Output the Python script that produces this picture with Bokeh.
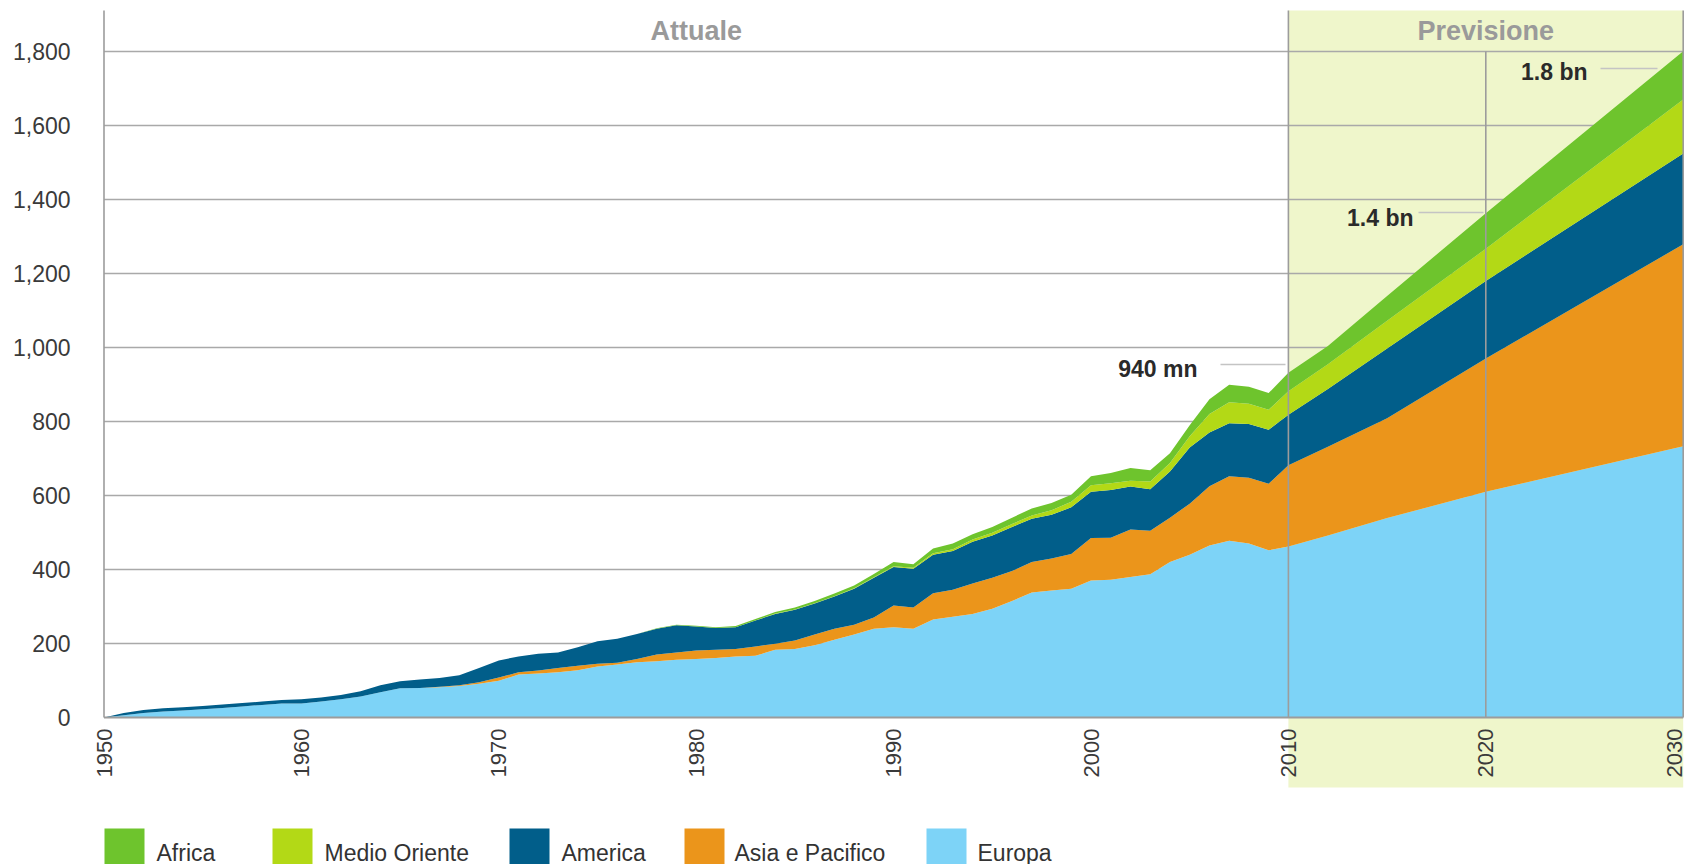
import math
from bokeh.plotting import figure
from bokeh.models import ColumnDataSource, Range1d
from bokeh.embed import file_html
from bokeh.resources import INLINE
from bokeh.core.properties import value

# ---------------- data ----------------
YEARS = list(range(1950, 2011)) + [2012, 2015, 2020, 2030]

europa = [
    0, 6, 12, 16, 19, 22, 26, 30, 34, 38,            # 1950-59
    38, 43, 49, 57, 68, 79, 80, 82, 85, 91,          # 1960-69
    99, 116, 119, 122, 128, 138, 143, 149, 152, 156,  # 1970-79
    158, 161, 165, 167, 183, 185, 195, 210, 224, 240,  # 1980-89
    244, 240, 265, 272, 280, 294, 315, 338, 343, 348,  # 1990-99
    370, 372, 380, 387, 420, 440, 465, 478, 470, 452,  # 2000-09
    462, 492, 539, 610, 733]                          # 2010,12,15,20,30

asia = [
    0, 0, 0, 0, 0, 0, 0, 0, 0, 0,
    0, 0, 0, 0, 0, 0, 0, 1, 2, 4,
    9, 6, 8, 12, 12, 7, 5, 9, 18, 20,
    23, 22, 20, 25, 16, 23, 29, 30, 27, 30,
    59, 57, 71, 73, 82, 84, 81, 82, 87, 94,
    115, 114, 128, 118, 120, 138, 160, 174, 178, 180,
    220, 240, 270, 360, 546]

america = [
    0, 6, 8, 9, 9, 9, 9, 9, 9, 9,
    11, 11, 12, 14, 19, 19, 23, 24, 27, 39,
    46, 43, 45, 42, 50, 61, 65, 68, 70, 73,
    65, 59, 59, 70, 81, 83, 84, 87, 97, 108,
    104, 105, 104, 105, 113, 114, 119, 117, 118, 126,
    125, 129, 116, 112, 125, 152, 145, 143, 145, 146,
    136, 156, 188, 210, 245]

medio_oriente = [
    0, 0, 0, 0, 0, 0, 0, 0, 0, 0,
    0, 0, 0, 0, 0, 0, 0, 0, 0, 0,
    0, 0, 0, 0, 0, 0, 0, 0, 0, 0,
    0, 0, 0, 0, 1, 1, 1, 1, 1, 1,
    2, 3, 4, 5, 6, 7, 8, 9, 12, 15,
    18, 18, 16, 21, 23, 30, 50, 57, 55, 54,
    64, 67, 75, 87, 146]

africa = [
    0, 0, 0, 0, 0, 0, 0, 0, 0, 0,
    0, 0, 0, 0, 0, 0, 0, 0, 0, 0,
    0, 0, 0, 0, 0, 0, 0, 0, 1, 2,
    2, 2, 3, 4, 4, 5, 6, 7, 8, 9,
    11, 9, 13, 15, 14, 16, 17, 19, 20, 19,
    24, 28, 34, 30, 26, 30, 40, 47, 46, 45,
    50, 49, 67, 96, 131]

SERIES = ["europa", "asia", "america", "medio", "africa"]
SERIES_LABELS = {"africa": "Africa", "medio": "Medio Oriente", "america": "America",
                 "asia": "Asia e Pacifico", "europa": "Europa"}
COLORS = {"europa": "#7DD3F7", "asia": "#EB951B", "america": "#015E8A",
          "medio": "#B3D916", "africa": "#6EC42D"}

Y_TICKS = [0, 200, 400, 600, 800, 1000, 1200, 1400, 1600, 1800]
X_TICKS = [1950, 1960, 1970, 1980, 1990, 2000, 2010, 2020, 2030]
PERIODS = [("Attuale", 1950, 2010), ("Previsione", 2010, 2030)]
ANNOT_TEXT = ["940 mn", "1.4 bn", "1.8 bn"]

# ---------------- layout helpers (screen px -> data) ----------------
W, H = 1688, 864
def FX(px):
    return 1950 + (px - 103.5) / 19.74
def FY(py):
    return (717 - py) / 0.37

FONT = value("Liberation Sans")

p = figure(width=W, height=H, output_backend="svg", toolbar_location=None,
           x_range=Range1d(FX(0), FX(W)), y_range=Range1d(FY(H), FY(0)),
           x_axis_location=None, y_axis_location=None, min_border=0)
p.min_border_left = p.min_border_right = p.min_border_top = p.min_border_bottom = 0
p.outline_line_color = None
p.background_fill_color = "white"
p.border_fill_color = "white"
p.xgrid.grid_line_color = None
p.ygrid.grid_line_color = None
p.grid.visible = False

# forecast band
fc = PERIODS[1]
p.quad(left=[fc[1]], right=[fc[2]], bottom=[FY(787)], top=[FY(10)],
       fill_color="#EFF6CB", line_color=None)

# horizontal gridlines
gt = Y_TICKS[1:]
p.segment(x0=[X_TICKS[0]] * len(gt), x1=[X_TICKS[-1]] * len(gt), y0=gt, y1=gt,
          line_color="#a9a9a9", line_width=1.6)

# stacked areas
src = ColumnDataSource(dict(year=YEARS, europa=europa, asia=asia, america=america,
                            medio=medio_oriente, africa=africa))
p.varea_stack(stackers=SERIES, x="year", color=[COLORS[s] for s in SERIES], source=src)

# baseline
p.segment(x0=[X_TICKS[0]], x1=[X_TICKS[-1]], y0=[0], y1=[0], line_color="#9c9c9c", line_width=2)

# vertical lines
vx = [1950, 2010, 2030]
p.segment(x0=vx, x1=vx, y0=[0] * 3, y1=[FY(10)] * 3, line_color="#9c9c9c", line_width=1.6)
p.segment(x0=[2020], x1=[2020], y0=[0], y1=[1800], line_color="#9c9c9c", line_width=1.6)

# y tick labels
p.text(x=[FX(70)] * len(Y_TICKS), y=Y_TICKS, text=[f"{v:,}" for v in Y_TICKS],
       text_align="right", text_baseline="alphabetic", text_font=FONT,
       text_font_size="23px", text_color="#3a3a3a")

# x tick labels (rotated); last one nudged so it stays inside the page
xt_src = ColumnDataSource(dict(
    x=X_TICKS, y=[FY(728)] * len(X_TICKS), t=[str(v) for v in X_TICKS],
    off=[0] * (len(X_TICKS) - 1) + [-9]))
p.text(x="x", y="y", text="t", x_offset="off", source=xt_src,
       angle=math.pi / 2, text_align="right", text_baseline="middle", text_font=FONT,
       text_font_size="22px", text_color="#3a3a3a")

# period headers
p.text(x=[(a + b) / 2 for _, a, b in PERIODS], y=[FY(30)] * 2, text=[n for n, _, _ in PERIODS],
       text_align="center", text_baseline="middle", text_font=FONT, text_font_style="bold",
       text_font_size="27px", text_color="#9a9a9a")

# annotations
ann_x = [FX(1197), FX(1413), FX(1587)]
ann_y = [FY(368), FY(217), FY(71)]
p.text(x=ann_x, y=ann_y, text=ANNOT_TEXT, text_align="right", text_baseline="middle",
       text_font=FONT, text_font_style="bold", text_font_size="23px", text_color="#2a2a2a")
p.segment(x0=[FX(1220), FX(1418), FX(1600)], x1=[FX(1285), FX(1483), FX(1657)],
          y0=[FY(364), FY(212), FY(68)], y1=[FY(364), FY(212), FY(68)],
          line_color="#c4c4c4", line_width=1.5)

# legend
leg_order = ["africa", "medio", "america", "asia", "europa"]
sq_left = [104, 272, 509, 684, 926]
txt_left = [156, 324, 561, 734, 977]
p.quad(left=[FX(v) for v in sq_left], right=[FX(v + 40) for v in sq_left],
       bottom=[FY(870)] * 5, top=[FY(828)] * 5,
       fill_color=[COLORS[s] for s in leg_order], line_color=None)
p.text(x=[FX(v) for v in txt_left], y=[FY(852)] * 5, text=[SERIES_LABELS[s] for s in leg_order],
       text_align="left", text_baseline="middle", text_font=FONT, text_font_size="23px",
       text_color="#333333")

open("out.html", "w").write(file_html(p, INLINE))
